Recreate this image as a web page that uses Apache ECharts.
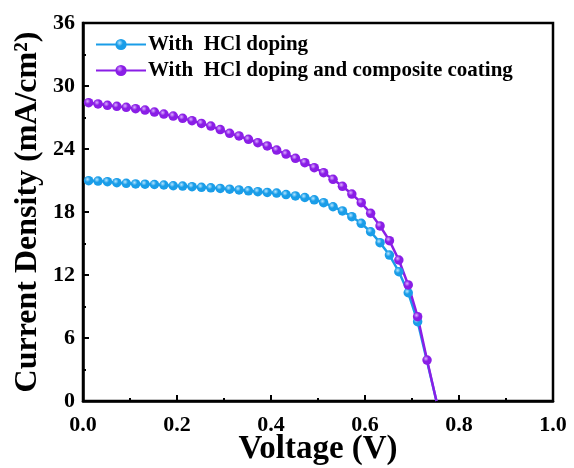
<!DOCTYPE html>
<html>
<head>
<meta charset="utf-8">
<script src="https://cdn.jsdelivr.net/npm/echarts@6/dist/echarts.min.js"></script>
<style>
html,body{margin:0;padding:0;background:#fff;}
#chart{width:574px;height:468px;}
</style>
</head>
<body>
<div id="chart"></div>
<script>
// Voltage (V) sample points
const voltage = [0.012,0.032,0.052,0.072,0.092,0.112,0.132,0.152,0.172,0.192,0.212,0.232,0.252,0.272,0.292,0.312,0.332,0.352,0.372,0.392,0.412,0.432,0.452,0.472,0.492,0.512,0.532,0.552,0.572,0.592,0.612,0.632,0.652,0.672,0.692,0.712,0.732];
const vocHCl = 0.752;
const vocComposite = 0.752;
// Current density (mA/cm2)
const jHCl = [20.98,20.95,20.89,20.79,20.73,20.67,20.65,20.62,20.57,20.50,20.47,20.41,20.35,20.30,20.25,20.17,20.10,20.02,19.94,19.86,19.80,19.66,19.53,19.38,19.16,18.89,18.50,18.10,17.55,16.92,16.12,15.08,13.90,12.31,10.31,7.55];
const jComposite = [28.41,28.29,28.16,28.06,27.97,27.84,27.71,27.52,27.33,27.14,26.92,26.70,26.44,26.18,25.85,25.49,25.24,24.92,24.60,24.29,23.90,23.52,23.11,22.70,22.22,21.74,21.11,20.45,19.71,18.89,17.87,16.67,15.27,13.43,11.05,8.03,3.90];
const seriesNames = ['With  HCl doping','With  HCl doping and composite coating'];
const xTicks = [0,0.2,0.4,0.6,0.8,1.0];
const yTicks = [0,6,12,18,24,30,36];

const blue = '#1a9de8';
const purple = '#8a1ee6';
function ball(c, hi){
  return {type:'radial',x:0.38,y:0.35,r:0.65,colorStops:[{offset:0,color:hi},{offset:0.45,color:c},{offset:1,color:c}]};
}
function build(js, voc){
  const d = js.map((j,i)=>[voltage[i], j]);
  d.push({value:[voc,0], symbol:'none'});
  return d;
}
const font = 'Liberation Serif';
const chart = echarts.init(document.getElementById('chart'), null, {renderer:'canvas'});
chart.setOption({
  animation:false,
  backgroundColor:'#fff',
  grid:{left:83,right:21,top:23,bottom:67,show:true,borderColor:'#000',borderWidth:2.5,backgroundColor:'transparent',containLabel:false,outerBoundsMode:'none'},
  legend:{
    left:90, top:29, orient:'vertical', itemWidth:50, itemHeight:14, itemGap:5,
    textStyle:{fontFamily:font,fontWeight:'bold',fontSize:21,color:'#000',padding:[0,0,0,-3]},
    data:seriesNames
  },
  xAxis:{
    type:'value', min:xTicks[0], max:xTicks[xTicks.length-1], interval:0.2,
    name:'Voltage (V)', nameLocation:'middle', nameGap:32, nameMoveOverlap:false,
    nameTextStyle:{fontFamily:font,fontWeight:'bold',fontSize:33,color:'#000'},
    axisLine:{show:true,lineStyle:{color:'#000',width:2.5}},
    axisTick:{show:true,inside:true,length:6,lineStyle:{color:'#000',width:2}},
    minorTick:{show:true,splitNumber:2,length:3,lineStyle:{color:'#000',width:2}},
    splitLine:{show:false},
    axisLabel:{fontFamily:font,fontWeight:'bold',fontSize:22,color:'#000',margin:13,formatter:v=>v.toFixed(1)}
  },
  yAxis:{
    type:'value', min:yTicks[0], max:yTicks[yTicks.length-1], interval:6,
    name:'Current Density (mA/cm²)', nameLocation:'middle', nameGap:39, nameMoveOverlap:false,
    nameTextStyle:{fontFamily:font,fontWeight:'bold',fontSize:32,color:'#000'},
    axisLine:{show:true,lineStyle:{color:'#000',width:2.5}},
    axisTick:{show:true,inside:true,length:6,lineStyle:{color:'#000',width:2}},
    minorTick:{show:true,splitNumber:2,length:3,lineStyle:{color:'#000',width:2}},
    splitLine:{show:false},
    axisLabel:{fontFamily:font,fontWeight:'bold',fontSize:22,color:'#000',margin:8}
  },
  series:[
    {name:seriesNames[0],type:'line',data:build(jHCl,vocHCl),symbol:'circle',symbolSize:9.5,
     lineStyle:{color:blue,width:2.5},itemStyle:{color:ball(blue,'#b8e6ff')}},
    {name:seriesNames[1],type:'line',data:build(jComposite,vocComposite),symbol:'circle',symbolSize:9.5,
     lineStyle:{color:purple,width:2.5},itemStyle:{color:ball(purple,'#dcb0ff')}}
  ]
});
</script>
</body>
</html>
